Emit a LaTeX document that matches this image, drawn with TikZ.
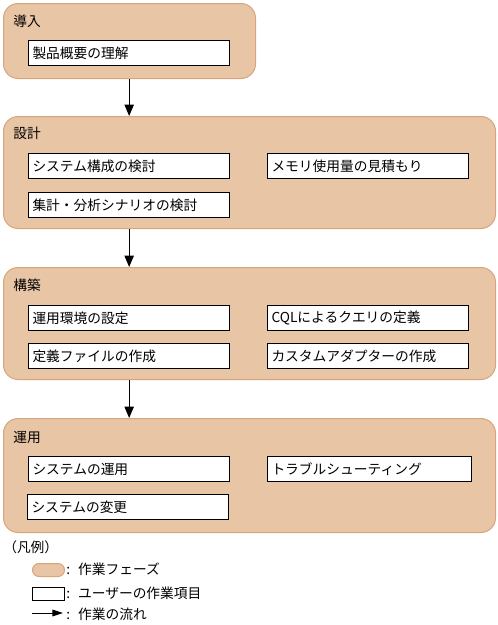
\documentclass[tikz,border=0pt]{standalone}
\usepackage{fontspec}
\setmainfont{Noto Sans CJK JP}
\usetikzlibrary{arrows.meta,positioning}
\definecolor{phasefill}{HTML}{E8C5A5}
\definecolor{phaseline}{HTML}{D7A47C}
\tikzset{
  phase/.style={draw=phaseline, fill=phasefill, line width=0.75pt, rounded corners=11pt, anchor=north west, inner sep=0pt},
  phasetitle/.style={anchor=west, inner sep=0pt},
  item/.style={draw, fill=white, line width=0.75pt, anchor=north west, text width=145pt, minimum height=19pt, inner xsep=3pt, inner ysep=0pt, align=left},
  arr/.style={-{Triangle[length=8.5pt,width=7pt]}, line width=0.75pt},
  legarr/.style={-{Triangle[length=8pt,width=5pt]}, line width=0.75pt},
  legtext/.style={anchor=west, inner sep=0pt}
}

\begin{document}
\begin{tikzpicture}[x=0.75pt, y=-0.75pt, font=\fontsize{10.3pt}{12pt}\selectfont]
\useasboundingbox (0,0) rectangle (497,625);

% phases
\node[phase, minimum width=189pt, minimum height=56.25pt] (intro) at (3,3) {};
\node[phase, minimum width=369pt, minimum height=84pt] (design) at (3,116) {};
\node[phase, minimum width=369pt, minimum height=84pt] (build) at (3,267) {};
\node[phase, minimum width=369pt, minimum height=85.5pt] (oper) at (3,418) {};

\node[phasetitle] (introt) at (13,21) {導入};
\node[phasetitle] (designt) at (13,133) {設計};
\node[phasetitle] (buildt) at (13,285) {構築};
\node[phasetitle] (opert) at (13,437) {運用};

% user tasks
\node[item] (i1) at (28,40) {製品概要の理解};
\node[item] (d1) at (28,153) {システム構成の検討};
\node[item] (d2) at (267,153) {メモリ使用量の見積もり};
\node[item] (d3) at (28,192) {集計・分析シナリオの検討};
\node[item] (b1) at (28,305) {運用環境の設定};
\node[item] (b2) at (267,305) {CQLによるクエリの定義};
\node[item] (b3) at (28,343) {定義ファイルの作成};
\node[item] (b4) at (267,343) {カスタムアダプターの作成};
\node[item] (o1) at (28,456) {システムの運用};
\node[item, text width=147pt] (o2) at (267,456) {トラブルシューティング};
\node[item] (o3) at (27,494) {システムの変更};

\draw[arr] (i1 |- intro.south) -- (i1 |- design.north);
\draw[arr] (i1 |- design.south) -- (i1 |- build.north);
\draw[arr] (i1 |- build.south) -- (i1 |- oper.north);

% legend
\node[legtext] (leg) at (3,547) {（凡例）};
\node[phase, minimum width=24pt, minimum height=9.75pt, rounded corners=4.8pt] (legphase) at (32,563) {};
\node[item, text width=, minimum width=24pt, minimum height=9.75pt, inner sep=0pt] (legitem) at (32,587) {};
\coordinate (legfrom) at (32,613);
\coordinate (legto) at (63,613);
\draw[legarr] (legfrom) -- (legto);
\node[legtext] (legphaset) at (66,569) {:\hspace{6pt}作業フェーズ};
\node[legtext] (legitemt) at (66,593) {:\hspace{6pt}ユーザーの作業項目};
\node[legtext] (legarrt) at (66,614) {:\hspace{6pt}作業の流れ};
\end{tikzpicture}
\end{document}
